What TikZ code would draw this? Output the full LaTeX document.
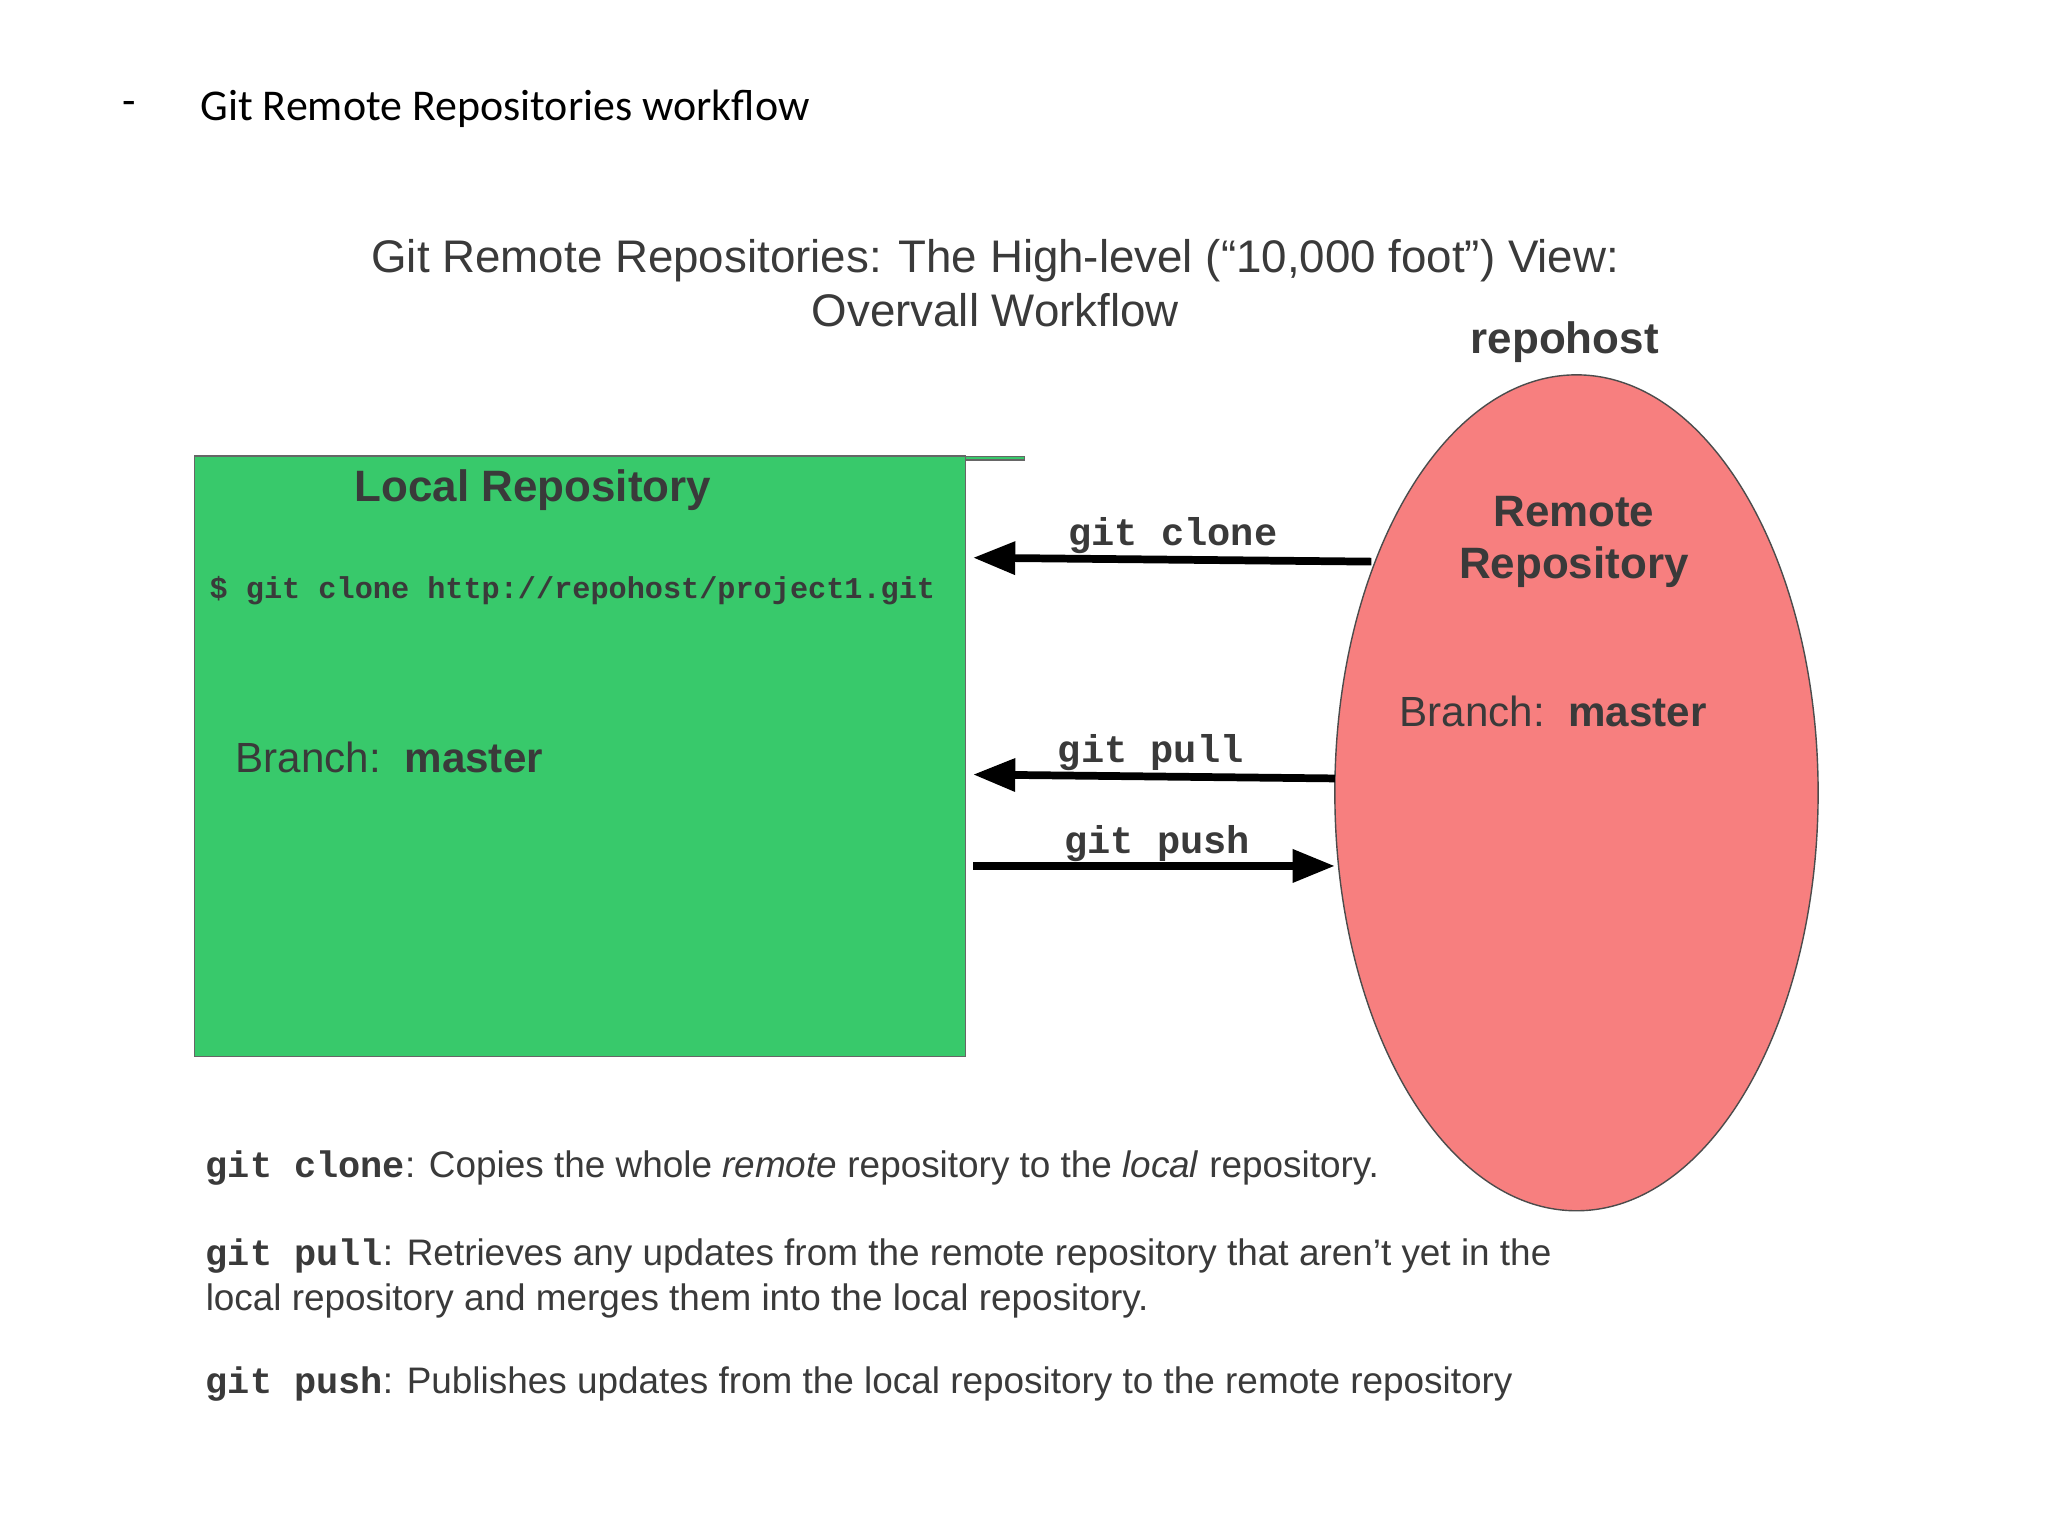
\documentclass[tikz,border=0pt]{standalone}
\usepackage{fontspec}
\setmainfont{Liberation Sans}
\setmonofont{Liberation Mono}
\newfontfamily\carl{Carlito}
\usetikzlibrary{arrows.meta}
\definecolor{grn}{HTML}{38C96B}
\definecolor{rd}{HTML}{F77F7F}
\definecolor{txt}{HTML}{3A3A3A}
\begin{document}
\begin{tikzpicture}[x=0.01306cm,y=-0.01306cm,
  code/.style={font=\ttfamily\bfseries\fontsize{11}{13}\selectfont,text=txt,inner sep=0},
  body/.style={font=\fontsize{10.5}{13}\selectfont,text=txt,anchor=west,inner sep=0},
  arr/.style={line width=2.2pt,-{Triangle[length=12pt,width=9pt]}}]
\useasboundingbox (0,0) rectangle (1568,1176);
\fill[white] (0,0) rectangle (1568,1176);
\node[font=\carl\fontsize{12.5}{14}\selectfont,inner sep=0] (dash) at (99,83) {-};
\node[font=\carl\fontsize{12.5}{14}\selectfont,anchor=west,inner sep=0] (title) at (153,83) {Git Remote Repositories workflow};
\node[font=\fontsize{13}{15.5}\selectfont,text=txt,align=center,inner sep=0] (head) at (762,217) {Git Remote Repositories: The High-level (“10,000 foot”) View:\\Overvall Workflow};
\node[font=\bfseries\fontsize{12.5}{14}\selectfont,text=txt,inner sep=0] (host) at (1198,262) {repohost};
\node[draw=black!60,fill=grn,minimum width=590\pgflinewidth,inner sep=0,anchor=north west] (local) at (149,349) {};
\fill[grn,draw=black!60] (149,349) rectangle (739,809);
\coordinate (L) at (745,0);
\node[font=\bfseries\fontsize{12.5}{14}\selectfont,text=txt,inner sep=0] (lt) at (408,375) {Local Repository};
\node[code,font=\ttfamily\bfseries\fontsize{8.6}{10}\selectfont,anchor=west] (cmd) at (160,452) {\$ git clone http://repohost/project1.git};
\node[font=\fontsize{12}{14}\selectfont,text=txt,anchor=west,inner sep=0] (lb) at (180,580) {Branch:\ \ \textbf{master}};
\draw[fill=rd,draw=black!70] (1207,607) ellipse [x radius=185,y radius=320];
\node (remote) at (1207,607) {};
\node[font=\bfseries\fontsize{12.5}{15}\selectfont,text=txt,align=center,inner sep=0] (rt) at (1205,415) {Remote\\Repository};
\node[font=\fontsize{12}{14}\selectfont,text=txt,inner sep=0] (rb) at (1189,545) {Branch:\ \ \textbf{master}};
\coordinate (c1) at (1050,430); \coordinate (c2) at (745,427);
\coordinate (p1) at (1022,596); \coordinate (p2) at (745,593);
\coordinate (q1) at (745,663); \coordinate (q2) at (1022,663);
\draw[arr] (c1) -- (c2);
\draw[arr] (p1) -- (p2);
\draw[arr] (q1) -- (q2);
\node[code] (lc) at (898,410) {git clone};
\node[code] (lp) at (881,576) {git pull};
\node[code] (lq) at (886,646) {git push};
\node[body] (b1) at (157,894) {\texttt{\bfseries git clone}: Copies the whole \textit{remote} repository to the \textit{local} repository.};
\node[body] (b2) at (157,962) {\texttt{\bfseries git pull}: Retrieves any updates from the remote repository that aren't yet in the};
\node[body] (b3) at (157,996) {local repository and merges them into the local repository.};
\node[body] (b4) at (157,1060) {\texttt{\bfseries git push}: Publishes updates from the local repository to the remote repository};
\end{tikzpicture}
\end{document}
